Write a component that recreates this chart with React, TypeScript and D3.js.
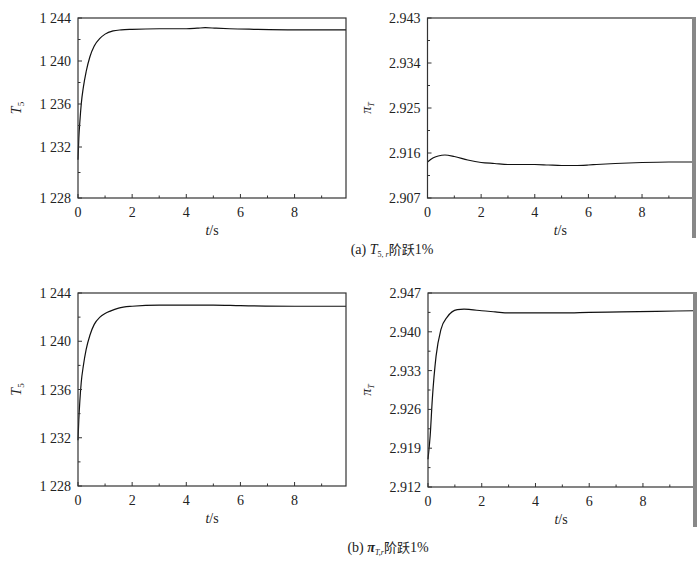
import React from 'react';
import * as d3 from 'd3';

// (a) T5,r step 1%
const aTime = [0, 0.03, 0.07, 0.12, 0.2, 0.3, 0.44, 0.6, 0.81, 1.0, 1.3, 1.6, 2, 3, 4, 4.4, 4.7, 5.1, 5.6, 6.5, 8, 9.9];
const aT5 = [1231.0, 1232.8, 1234.4, 1236.0, 1237.6, 1239.0, 1240.4, 1241.4, 1242.1, 1242.5, 1242.8, 1242.9, 1242.95, 1243.0, 1243.0, 1243.05, 1243.1, 1243.05, 1243.0, 1242.95, 1242.9, 1242.9];
const aPiTime = [0, 0.2, 0.4, 0.65, 1.0, 1.5, 2, 2.5, 3, 4, 4.5, 5, 5.5, 6, 6.3, 7, 8, 9, 9.9];
const aPi = [2.9142, 2.915, 2.9154, 2.9156, 2.9153, 2.9146, 2.9141, 2.9139, 2.9137, 2.9137, 2.9136, 2.9135, 2.9135, 2.9136, 2.9137, 2.9139, 2.9141, 2.9142, 2.9142];

// (b) piT,r step 1%
const bTime = [0, 0.03, 0.07, 0.12, 0.2, 0.3, 0.44, 0.6, 0.81, 1.0, 1.19, 1.5, 2, 3, 4, 5, 6, 8, 9.9];
const bT5 = [1231.8, 1233.5, 1235.1, 1236.6, 1238.0, 1239.3, 1240.5, 1241.4, 1242.0, 1242.3, 1242.5, 1242.75, 1242.9, 1243.0, 1243.0, 1243.0, 1242.95, 1242.9, 1242.9];
const bPiTime = [0, 0.08, 0.16, 0.3, 0.48, 0.72, 1.09, 1.34, 1.6, 2, 2.5, 3, 4, 5, 6, 7.2, 8.5, 9.9];
const bPi = [2.917, 2.9212, 2.9278, 2.9356, 2.9404, 2.9427, 2.944, 2.9441, 2.944, 2.9438, 2.9436, 2.9434, 2.9434, 2.9434, 2.9435, 2.9436, 2.9437, 2.9438];

const xTicks = [0, 2, 4, 6, 8];
const xMinor = [1, 3, 5, 7, 9];
const t5Ticks = [1228, 1232, 1236, 1240, 1244];
const t5Labels = ['1 228', '1 232', '1 236', '1 240', '1 244'];
const aPiTicks = [2.907, 2.916, 2.925, 2.934, 2.943];
const bPiTicks = [2.912, 2.919, 2.926, 2.933, 2.94, 2.947];

const serif = '"Liberation Serif", "Times New Roman", Times, "DejaVu Serif", serif';
const cjk = '"Noto Sans CJK SC", sans-serif';

type PanelProps = {
  left: number; right: number; top: number; bottom: number;
  yScale: d3.ScaleLinear<number, number>;
  yTicks: number[]; yLabels: string[]; yMinor: number[];
  times: number[]; values: number[];
  ylabel: 'T5' | 'pi';
  heavyRight?: boolean;
};

const Panel = ({ left, right, top, bottom, yScale, yTicks, yLabels, yMinor, times, values, ylabel, heavyRight }: PanelProps) => {
  const x = d3.scaleLinear().domain([0, 9.9]).range([left, right]);
  const line = d3.line<number>()
    .x((_, i) => x(times[i]))
    .y(d => yScale(d))
    .curve(d3.curveMonotoneX);
  const midY = (top + bottom) / 2;
  return (
    <g>
      <path d={line(values) || ''} fill="none" stroke="#111" strokeWidth={1.2} />
      <rect x={left} y={top} width={right - left} height={bottom - top} fill="none" stroke="#333" strokeWidth={1.2} />
      {heavyRight && <line x1={right + 1} x2={right + 1} y1={top - 1} y2={bottom + 40} stroke="#888" strokeWidth={4} />}
      {xTicks.map(t => (
        <g key={'x' + t}>
          <line x1={x(t)} x2={x(t)} y1={bottom} y2={bottom - 4} stroke="#333" />
          <text x={x(t)} y={bottom + 19} textAnchor="middle" fontSize={14} style={{ fontFamily: serif }} fill="#222">{t}</text>
        </g>
      ))}
      {xMinor.map(t => (
        <line key={'xm' + t} x1={x(t)} x2={x(t)} y1={bottom} y2={bottom - 2.5} stroke="#333" />
      ))}
      {yTicks.map((t, i) => (
        <g key={'y' + t}>
          <line x1={left} x2={left + 4} y1={yScale(t)} y2={yScale(t)} stroke="#333" />
          <text x={left - 7} y={yScale(t) + 5} textAnchor="end" fontSize={14} style={{ fontFamily: serif }} fill="#222">{yLabels[i]}</text>
        </g>
      ))}
      {yMinor.map(t => (
        <line key={'ym' + t} x1={left} x2={left + 2.5} y1={yScale(t)} y2={yScale(t)} stroke="#333" />
      ))}
      <text x={(left + right) / 2} y={bottom + 37} textAnchor="middle" fontSize={14} style={{ fontFamily: serif }} fill="#222">
        <tspan fontStyle="italic">t</tspan>/s
      </text>
      <text transform={`translate(${left - 57},${midY}) rotate(-90)`} textAnchor="middle" fontSize={14} style={{ fontFamily: serif }} fill="#222">
        {ylabel === 'T5' ? (
          <>
            <tspan fontStyle="italic">T</tspan>
            <tspan fontSize={9} dy={3}>5</tspan>
          </>
        ) : (
          <>
            <tspan fontStyle="italic">π</tspan>
            <tspan fontSize={8} fontStyle="italic" dy={3}>T</tspan>
          </>
        )}
      </text>
    </g>
  );
};

const mid = (a: number[]) => a.slice(0, -1).map((v, i) => +(v + (a[i + 1] - v) / 2).toFixed(4));

const App = () => {
  // original figure's left axis is unevenly spaced below 1 232
  const yA1 = d3.scaleLinear().domain([1228, 1232, 1244]).range([198, 147, 18]);
  const yA2 = d3.scaleLinear().domain([2.907, 2.943]).range([198, 18]);
  const yB1 = d3.scaleLinear().domain([1228, 1244]).range([486, 293]);
  const yB2 = d3.scaleLinear().domain([2.912, 2.947]).range([487, 293]);
  const fmt = d3.format('.3f');
  return (
    <svg width={700} height={566} style={{ position: 'absolute', left: 0, top: 0, background: '#fff' }}>
      <Panel left={78} right={346} top={18} bottom={198} yScale={yA1} yTicks={t5Ticks} yLabels={t5Labels}
        yMinor={mid(t5Ticks)} times={aTime} values={aT5} ylabel="T5" />
      <Panel left={427.5} right={693} top={18} bottom={198} yScale={yA2} yTicks={aPiTicks} yLabels={aPiTicks.map(fmt)}
        yMinor={mid(aPiTicks)} times={aPiTime} values={aPi} ylabel="pi" heavyRight />
      <text x={392} y={254} textAnchor="middle" fontSize={14} style={{ fontFamily: serif }} fill="#222">
        (a) <tspan fontStyle="italic">T</tspan><tspan fontSize={8} dy={3}>5, </tspan><tspan fontSize={8} fontStyle="italic">r</tspan>
        <tspan dy={-3} style={{ fontFamily: cjk }} fontSize={13}>阶跃</tspan>1%
      </text>
      <Panel left={78} right={346} top={293} bottom={486} yScale={yB1} yTicks={t5Ticks} yLabels={t5Labels}
        yMinor={mid(t5Ticks)} times={bTime} values={bT5} ylabel="T5" />
      <Panel left={428} right={694} top={293} bottom={487} yScale={yB2} yTicks={bPiTicks} yLabels={bPiTicks.map(fmt)}
        yMinor={mid(bPiTicks)} times={bPiTime} values={bPi} ylabel="pi" heavyRight />
      <text x={388} y={552} textAnchor="middle" fontSize={14} style={{ fontFamily: serif }} fill="#222">
        (b) <tspan fontStyle="italic" fontWeight="bold">π</tspan><tspan fontSize={8} fontStyle="italic" dy={3}>T,</tspan><tspan fontSize={8} fontStyle="italic">r</tspan>
        <tspan dy={-3} style={{ fontFamily: cjk }} fontSize={13}>阶跃</tspan>1%
      </text>
    </svg>
  );
};

export default App;
